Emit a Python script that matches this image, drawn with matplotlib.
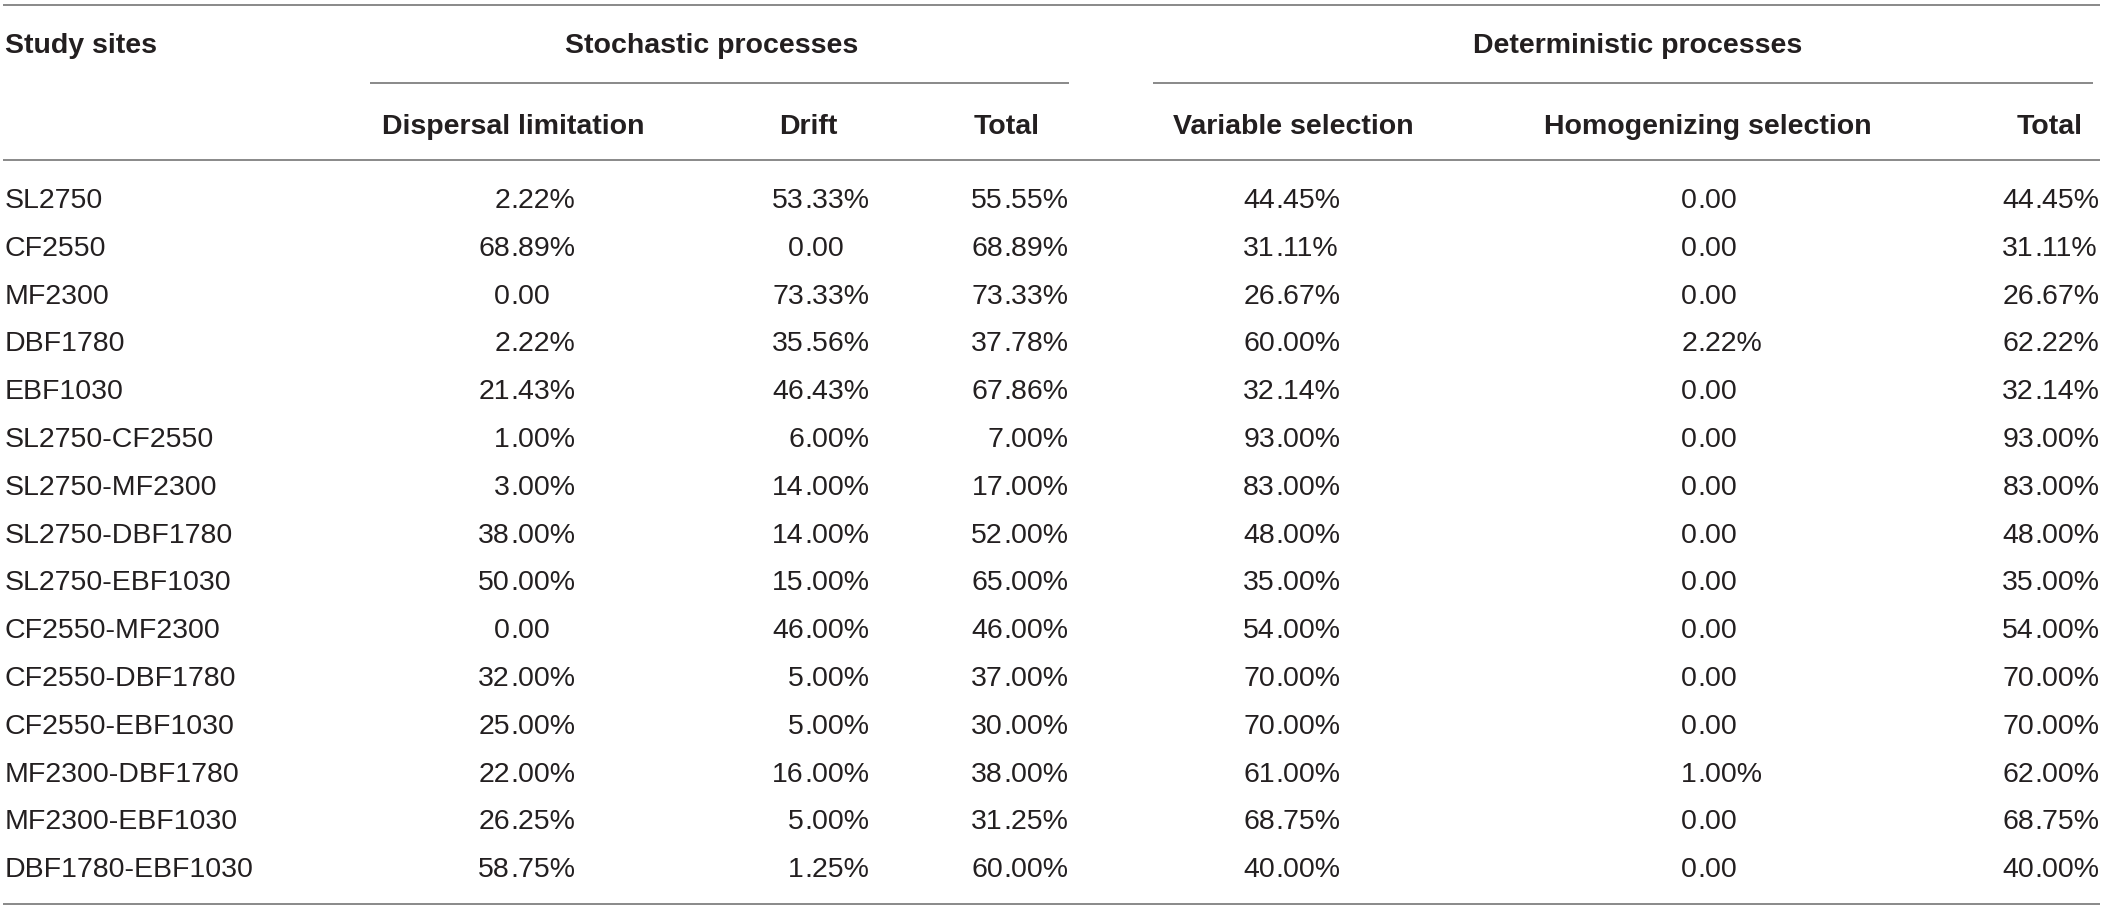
import matplotlib
matplotlib.use("Agg")
import matplotlib.pyplot as plt

plt.rcParams['font.family'] = ['Liberation Sans', 'DejaVu Sans']

# ---- table content ------------------------------------------------------
sites = ["SL2750", "CF2550", "MF2300", "DBF1780", "EBF1030",
         "SL2750-CF2550", "SL2750-MF2300", "SL2750-DBF1780", "SL2750-EBF1030",
         "CF2550-MF2300", "CF2550-DBF1780", "CF2550-EBF1030",
         "MF2300-DBF1780", "MF2300-EBF1030", "DBF1780-EBF1030"]

dispersal = ["2.22%", "68.89%", "0.00", "2.22%", "21.43%", "1.00%", "3.00%", "38.00%",
             "50.00%", "0.00", "32.00%", "25.00%", "22.00%", "26.25%", "58.75%"]
drift = ["53.33%", "0.00", "73.33%", "35.56%", "46.43%", "6.00%", "14.00%", "14.00%",
         "15.00%", "46.00%", "5.00%", "5.00%", "16.00%", "5.00%", "1.25%"]
stoch_total = ["55.55%", "68.89%", "73.33%", "37.78%", "67.86%", "7.00%", "17.00%", "52.00%",
               "65.00%", "46.00%", "37.00%", "30.00%", "38.00%", "31.25%", "60.00%"]
variable_sel = ["44.45%", "31.11%", "26.67%", "60.00%", "32.14%", "93.00%", "83.00%", "48.00%",
                "35.00%", "54.00%", "70.00%", "70.00%", "61.00%", "68.75%", "40.00%"]
homog_sel = ["0.00", "0.00", "0.00", "2.22%", "0.00", "0.00", "0.00", "0.00",
             "0.00", "0.00", "0.00", "0.00", "1.00%", "0.00", "0.00"]
det_total = ["44.45%", "31.11%", "26.67%", "62.22%", "32.14%", "93.00%", "83.00%", "48.00%",
             "35.00%", "54.00%", "70.00%", "70.00%", "62.00%", "68.75%", "40.00%"]

group_labels = ["Stochastic processes", "Deterministic processes"]
sub_labels = ["Dispersal limitation", "Drift", "Total",
              "Variable selection", "Homogenizing selection", "Total"]
first_header = "Study sites"

# ---- layout (pixel units) -----------------------------------------------
W, H = 2106, 910
txt_color = "#231f20"
line_color = "#808080"
fs = 20.5

fig = plt.figure(figsize=(W / 100, H / 100), dpi=100)
ax = fig.add_axes([0, 0, 1, 1])
ax.set_xlim(0, W)
ax.set_ylim(H, 0)
ax.axis("off")

def hline(y, x0, x1):
    ax.plot([x0, x1], [y, y], color=line_color, lw=1.3, solid_capstyle="butt")

hline(5, 3, 2100)
hline(160, 3, 2100)
hline(904, 3, 2100)
hline(83, 370, 1069)
hline(83, 1153, 2093)

# headers
ax.text(5, 53, first_header, fontsize=fs, fontweight="bold", color=txt_color,
        ha="left", va="baseline")
group_centers = [712, 1638]
for lab, cx in zip(group_labels, group_centers):
    ax.text(cx, 53, lab, fontsize=fs, fontweight="bold", color=txt_color,
            ha="center", va="baseline")

sub_centers = [513, 808, 1007, 1293, 1708, 2050]
for lab, cx in zip(sub_labels, sub_centers):
    ax.text(cx, 134, lab, fontsize=fs, fontweight="bold", color=txt_color,
            ha="center", va="baseline")

# body rows
y_first, y_step = 198, 47.8
columns = [dispersal, drift, stoch_total, variable_sel, homog_sel, det_total]
decimal_x = [510, 804, 1003, 1275, 1697, 2034]

for i, site in enumerate(sites):
    yb = y_first + i * y_step + 10
    ax.text(5, yb, site, fontsize=fs, color=txt_color, ha="left", va="baseline")
    for col, dx in zip(columns, decimal_x):
        val = col[i]
        whole, frac = val.split(".")
        ax.text(dx, yb, whole, fontsize=fs, color=txt_color, ha="right", va="baseline")
        ax.text(dx, yb, "." + frac, fontsize=fs, color=txt_color, ha="left", va="baseline")

fig.savefig("out.png", dpi=100, facecolor="white")
